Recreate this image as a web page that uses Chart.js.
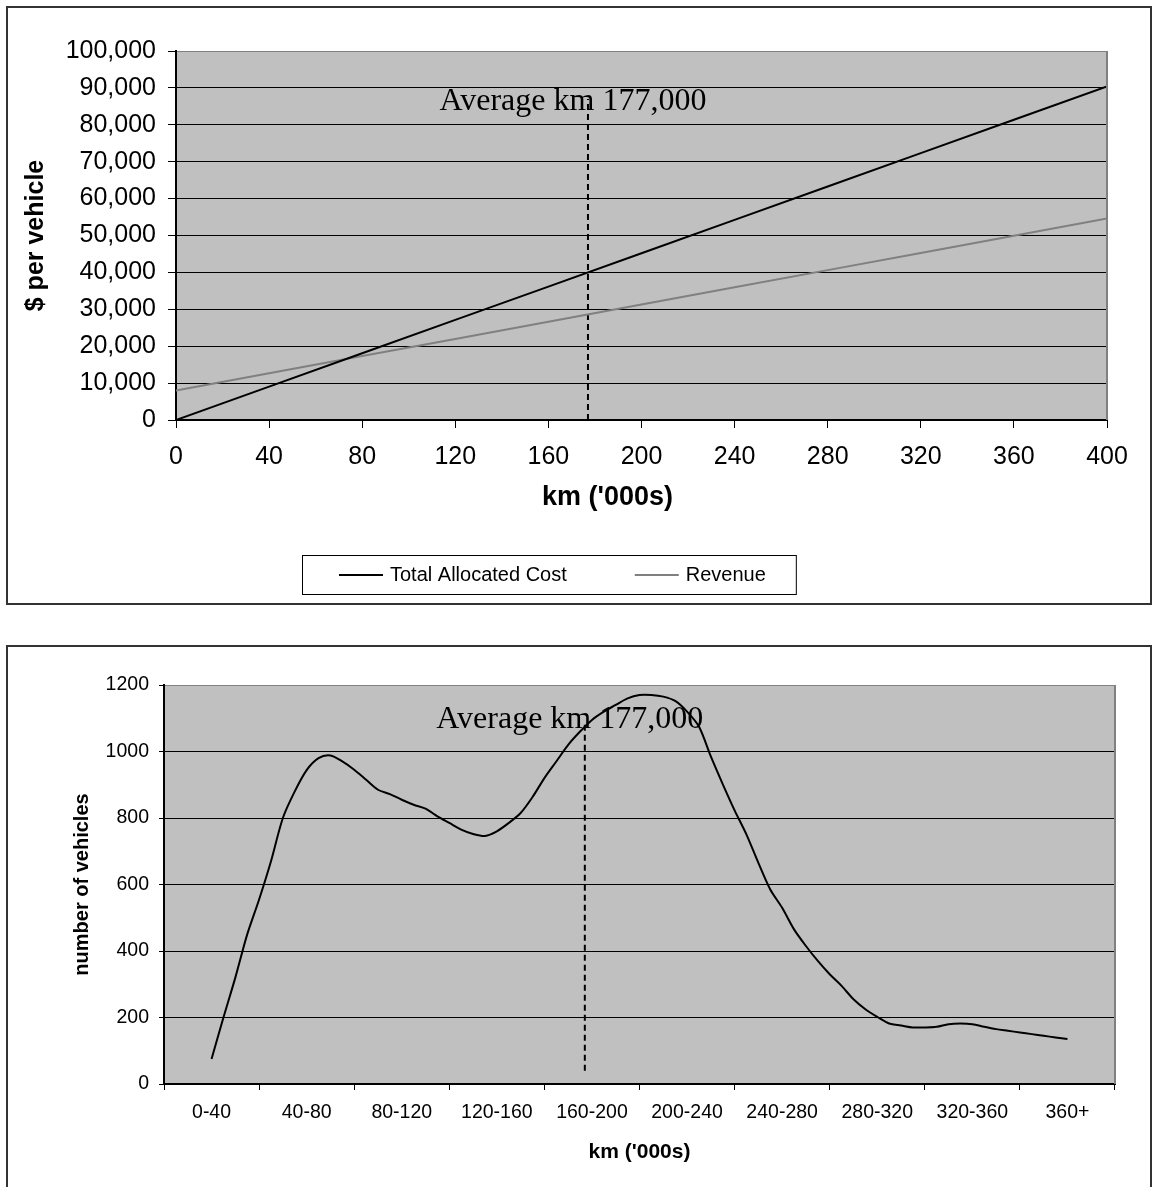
<!DOCTYPE html>
<html lang="en">
<head>
<meta charset="UTF-8">
<title>Cost, revenue and vehicles by km</title>
<script src="https://cdn.jsdelivr.net/npm/chart.js"></script>
<style>
  body { margin: 0; background: #fff; }
  .box { position: absolute; left: 6px; width: 1146px; border: 2px solid #333; box-sizing: border-box; background: #fff; }
  #box1 { top: 6px; height: 599px; }
  #box2 { top: 645px; height: 600px; }
  canvas { display: block; }
</style>
</head>
<body>
<div class="box" id="box1"><canvas id="costChart" width="1142" height="595"></canvas></div>
<div class="box" id="box2"><canvas id="countChart" width="1142" height="596"></canvas></div>
<script>
// top chart: $ per vehicle against km travelled
const costKm = [0, 40, 80, 120, 160, 200, 240, 280, 320, 360, 400];
const totalAllocatedCost = [0, 9040, 18080, 27120, 36160, 45200, 54240, 63280, 72320, 81360, 90400];
const revenue = [8000, 12660, 17320, 21980, 26640, 31300, 35960, 40620, 45280, 49940, 54600];
const seriesNames = ['Total Allocated Cost', 'Revenue'];

// average km marker
const avgKm = 177;
const avgLabel = 'Average km 177,000';
const avgSpanCost = [0, 87000];
const avgSpanCount = [40, 1085];

// bottom chart: number of vehicles by km band
const bandLabels = ['0-40', '40-80', '80-120', '120-160', '160-200', '200-240', '240-280', '280-320', '320-360', '360+'];
const vehicleKm = [20, 25, 30, 35, 40, 45, 50, 55, 60, 65, 70, 75, 80, 85, 90, 95, 100, 105, 110, 115,
  120, 125, 130, 135, 140, 145, 150, 155, 160, 165, 170, 175, 180, 185, 190, 195, 200, 205, 210, 215,
  220, 225, 230, 235, 240, 245, 250, 255, 260, 265, 270, 275, 280, 285, 290, 295, 300, 305, 310, 315,
  320, 325, 330, 335, 340, 345, 350, 355, 360, 365, 370, 375, 380];
const vehicles = [75, 200, 320, 450, 555, 670, 800, 880, 944, 980, 988, 970, 945, 915, 885, 872, 855, 840, 828, 805,
  785, 765, 752, 746, 760, 785, 815, 863, 920, 970, 1020, 1060, 1095, 1120, 1140, 1160, 1170, 1170, 1165, 1152,
  1120, 1075, 985, 902, 823, 750, 665, 585, 530, 465, 415, 370, 330, 295, 255, 225, 202, 182, 176, 170,
  170, 172, 180, 182, 180, 172, 165, 160, 155, 150, 145, 140, 135];

const sans = '"Liberation Sans", Arial, sans-serif';
const serif = '"Liberation Serif", "Times New Roman", serif';

const plotFrame = {
  id: 'plotFrame',
  beforeDraw(chart) {
    const {ctx, chartArea: a} = chart;
    ctx.save();
    ctx.fillStyle = '#c0c0c0';
    ctx.fillRect(a.left, a.top, a.right - a.left, a.bottom - a.top);
    ctx.restore();
  },
  afterDraw(chart) {
    const {ctx, chartArea: a} = chart;
    ctx.save();
    ctx.strokeStyle = '#808080';
    ctx.lineWidth = 2;
    ctx.beginPath();
    ctx.moveTo(a.right, a.top);
    ctx.lineTo(a.right, a.bottom);
    ctx.stroke();
    ctx.restore();
  }
};

const avgText = {
  id: 'avgText',
  afterDatasetsDraw(chart, args, opts) {
    const ctx = chart.ctx;
    const x = chart.scales[opts.xAxis].getPixelForValue(avgKm) - 15;
    const y = chart.scales.y.getPixelForValue(opts.at);
    ctx.save();
    ctx.font = '32px ' + serif;
    ctx.fillStyle = '#000';
    ctx.textAlign = 'center';
    ctx.textBaseline = 'alphabetic';
    ctx.fillText(avgLabel, x, y);
    ctx.restore();
  }
};

// x axis caption, drawn a little left of the plot centre as in the original
const xCaption = {
  id: 'xCaption',
  afterDraw(chart, args, opts) {
    if (!opts.text) return;
    const {ctx, chartArea: a} = chart;
    ctx.save();
    ctx.font = 'bold ' + opts.size + 'px ' + sans;
    ctx.fillStyle = '#000';
    ctx.textAlign = 'center';
    ctx.textBaseline = 'middle';
    ctx.fillText(opts.text, (a.left + a.right) / 2 + opts.dx, a.bottom + opts.dy);
    ctx.restore();
  }
};

const boxLegend = {
  id: 'boxLegend',
  afterDraw(chart, args, opts) {
    if (!opts.show) return;
    const ctx = chart.ctx;
    const items = chart.data.datasets.filter(d => d.inLegend);
    ctx.save();
    ctx.font = '20px ' + sans;
    const widths = items.map(d => ctx.measureText(d.label).width);
    let w = 37 + 30 + 68 * (items.length - 1);
    widths.forEach(tw => { w += 44 + 7 + tw; });
    const left = opts.left, top = opts.top, h = 39;
    ctx.strokeStyle = '#000';
    ctx.lineWidth = 1;
    ctx.strokeRect(left + 0.5, top + 0.5, w, h);
    let x = left + 37;
    const cy = top + h / 2 + 0.5;
    ctx.textBaseline = 'middle';
    ctx.fillStyle = '#000';
    items.forEach((d, i) => {
      ctx.strokeStyle = d.borderColor;
      ctx.lineWidth = 2;
      ctx.beginPath();
      ctx.moveTo(x, cy);
      ctx.lineTo(x + 44, cy);
      ctx.stroke();
      ctx.fillText(d.label, x + 51, cy);
      x += 51 + widths[i] + 68;
    });
    ctx.restore();
  }
};

new Chart(document.getElementById('costChart'), {
  type: 'line',
  data: {
    datasets: [
      {
        label: seriesNames[0], inLegend: true,
        data: costKm.map((k, i) => ({x: k, y: totalAllocatedCost[i]})),
        borderColor: '#000', borderWidth: 2, pointRadius: 0, tension: 0
      },
      {
        label: seriesNames[1], inLegend: true,
        data: costKm.map((k, i) => ({x: k, y: revenue[i]})),
        borderColor: '#808080', borderWidth: 2, pointRadius: 0, tension: 0
      },
      {
        label: 'Average km',
        data: avgSpanCost.map(v => ({x: avgKm, y: v})),
        borderColor: '#000', borderWidth: 2, borderDash: [6, 4], pointRadius: 0
      }
    ]
  },
  options: {
    responsive: false,
    animation: false,
    events: [],
    layout: { padding: { left: 0, top: 43, right: 43, bottom: 0 } },
    plugins: {
      legend: { display: false },
      tooltip: { enabled: false },
      avgText: { xAxis: 'x', at: 84000 },
      xCaption: { text: "km ('000s)", size: 27, dx: -34, dy: 78 },
      boxLegend: { show: true, left: 294, top: 547 }
    },
    scales: {
      x: {
        type: 'linear', min: 0, max: 400,
        ticks: { stepSize: 40, padding: 14, color: '#000', maxRotation: 0, font: { size: 25, family: sans } },
        grid: { drawOnChartArea: false, tickLength: 8, tickColor: '#000' },
        border: { color: '#000', width: 2 },
        afterFit(s) { s.height = 183; }
      },
      y: {
        min: 0, max: 100000,
        ticks: { stepSize: 10000, padding: 12, color: '#000', font: { size: 25, family: sans } },
        grid: { color: c => (c.tick && c.tick.value === 100000 ? '#808080' : '#000'), tickColor: '#000', tickLength: 8 },
        border: { color: '#000', width: 2 },
        title: { display: true, text: '$ per vehicle', color: '#000',
          font: { size: 25, weight: 'bold', family: sans }, padding: { top: 13, bottom: 0 } },
        afterFit(s) { s.width = 168; }
      }
    }
  },
  plugins: [plotFrame, avgText, xCaption, boxLegend]
});

new Chart(document.getElementById('countChart'), {
  type: 'line',
  data: {
    labels: bandLabels,
    datasets: [
      {
        label: 'number of vehicles', xAxisID: 'xv',
        data: vehicleKm.map((k, i) => ({x: k, y: vehicles[i]})),
        borderColor: '#000', borderWidth: 2, pointRadius: 0, tension: 0.3
      },
      {
        label: 'Average km', xAxisID: 'xv',
        data: avgSpanCount.map(v => ({x: avgKm, y: v})),
        borderColor: '#000', borderWidth: 2, borderDash: [6, 4], pointRadius: 0
      }
    ]
  },
  options: {
    responsive: false,
    animation: false,
    events: [],
    layout: { padding: { left: 0, top: 38, right: 35, bottom: 0 } },
    plugins: {
      legend: { display: false },
      tooltip: { enabled: false },
      avgText: { xAxis: 'xv', at: 1071 },
      xCaption: { text: '' },
      boxLegend: { show: false }
    },
    scales: {
      x: {
        type: 'category', offset: true,
        ticks: { padding: 11, color: '#000', maxRotation: 0, autoSkip: false, font: { size: 19.5, family: sans } },
        grid: { offset: true, drawOnChartArea: false, tickLength: 6, tickColor: '#000' },
        border: { color: '#000', width: 2 },
        title: { display: true, text: "km ('000s)", color: '#000',
          font: { size: 21, weight: 'bold', family: sans }, padding: { top: 0, bottom: 78 } },
        afterFit(s) { s.height = 159; }
      },
      xv: { type: 'linear', min: 0, max: 400, display: false },
      y: {
        min: 0, max: 1200,
        ticks: { stepSize: 200, padding: 10, color: '#000', font: { size: 19.5, family: sans }, callback: v => String(v) },
        grid: { color: c => (c.tick && c.tick.value === 1200 ? '#808080' : '#000'), tickColor: '#000', tickLength: 5 },
        border: { color: '#000', width: 2 },
        title: { display: true, text: 'number of vehicles', color: '#000',
          font: { size: 20, weight: 'bold', family: sans }, padding: { top: 62, bottom: 0 } },
        afterFit(s) { s.width = 156; }
      }
    }
  },
  plugins: [plotFrame, avgText, xCaption, boxLegend]
});
</script>
</body>
</html>
